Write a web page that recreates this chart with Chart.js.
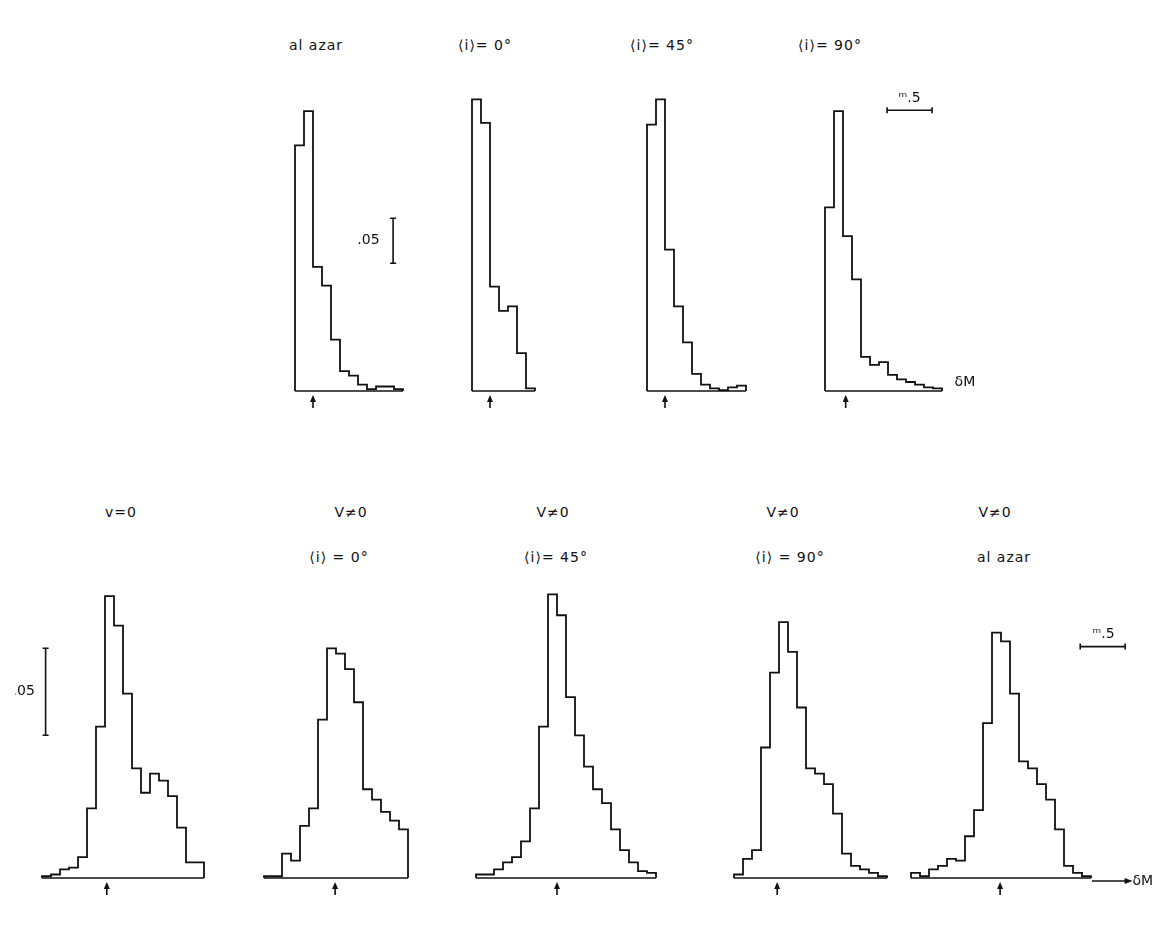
<!DOCTYPE html>
<html>
<head>
<meta charset="utf-8">
<title>Distribución de δM</title>
<script src="https://cdn.jsdelivr.net/npm/chart.js@4.4.1/dist/chart.umd.min.js"></script>
<style>
  html, body { margin: 0; padding: 0; background: #fff; }
  body { width: 1163px; height: 939px; position: relative; overflow: hidden; font-family: "DejaVu Sans", sans-serif; }
  canvas.panel { position: absolute; }
  .lbl { position: absolute; font-size: 14px; letter-spacing: 1px; color: #111; white-space: nowrap; transform: translate(-50%, -50%); }
</style>
</head>
<body>
<script>
// anchura de cada intervalo en δM (magnitudes)
const binWidth = 0.1;

// fila superior: histogramas (fracción por intervalo), empiezan en δM = -0.2
const topTitles = ["al azar", "⟨i⟩= 0°", "⟨i⟩= 45°", "⟨i⟩= 90°"];
const topStart = [-0.2, -0.2, -0.2, -0.2];
const topAlAzar = [0.273, 0.311, 0.138, 0.117, 0.057, 0.022, 0.017, 0.007, 0.002, 0.005, 0.005, 0.002];
const topI0 = [0.324, 0.298, 0.116, 0.089, 0.094, 0.042, 0.003];
const topI45 = [0.296, 0.324, 0.157, 0.094, 0.054, 0.019, 0.007, 0.003, 0.001, 0.004, 0.006];
const topI90 = [0.204, 0.311, 0.172, 0.124, 0.038, 0.029, 0.032, 0.018, 0.013, 0.010, 0.007, 0.004, 0.003];
const topArrows = [0, 0, 0, 0.03];

// fila inferior
const bottomTitles = [["v=0", ""], ["V≠0", "⟨i⟩ = 0°"], ["V≠0", "⟨i⟩= 45°"], ["V≠0", "⟨i⟩ = 90°"], ["V≠0", "al azar"]];
const bottomStart = [-0.7, -0.7, -0.8, -0.5, -0.9];
const botV0 = [0.001, 0.002, 0.005, 0.006, 0.012, 0.040, 0.087, 0.162, 0.145, 0.106, 0.063, 0.049, 0.060, 0.056, 0.047, 0.029, 0.009, 0.009];
const botI0 = [0.001, 0.001, 0.014, 0.010, 0.030, 0.040, 0.091, 0.132, 0.129, 0.120, 0.101, 0.051, 0.045, 0.038, 0.033, 0.028];
const botI45 = [0.002, 0.002, 0.005, 0.009, 0.012, 0.021, 0.040, 0.087, 0.163, 0.151, 0.104, 0.082, 0.064, 0.051, 0.043, 0.028, 0.016, 0.009, 0.004, 0.003];
const botI90 = [0.002, 0.011, 0.016, 0.075, 0.118, 0.147, 0.130, 0.098, 0.063, 0.060, 0.054, 0.037, 0.014, 0.007, 0.005, 0.003, 0.001];
const botAlAzar = [0.003, 0.001, 0.005, 0.007, 0.011, 0.010, 0.024, 0.039, 0.089, 0.141, 0.136, 0.106, 0.067, 0.063, 0.054, 0.045, 0.028, 0.007, 0.003, 0.001];
const bottomArrows = [0.02, 0.09, 0.1, -0.02, 0.09];

// barras de escala
const scaleY = 0.05;   // fracción
const scaleX = 0.5;    // magnitudes

// ---- disposición (pixeles) ----
const INK = "#111";
const PX_PER_MAG = 90;
const PAD_BOTTOM = 22;
const TOP = { baseline: 391, ppu: 900, chartH: 306, titleY: 45 };
const BOT = { baseline: 878, ppu: 1740, chartH: 296, titleY: [512, 557] };
const topZero = [313, 490, 665, 843];
const topRange = [[-0.3, 1.1], [-0.3, 0.7], [-0.3, 1.0], [-0.3, 1.6]];
const topTitleX = [316, 485, 662, 830];
const botZero = [105, 327, 548, 779, 992];
const botRange = [[-1.0, 1.3], [-0.8, 1.0], [-0.9, 1.3], [-0.6, 1.3], [-1.0, 1.9]];
const botTitleX = [[121, 0], [351, 339], [553, 556], [783, 790], [995, 1004]];

function stepPoints(start, vals) {
  const pts = [{ x: start, y: 0 }];
  vals.forEach((v, i) => pts.push({ x: +(start + i * binWidth).toFixed(2), y: v }));
  pts.push({ x: +(start + vals.length * binWidth).toFixed(2), y: 0 });
  return pts;
}

// dibuja flecha de la media, barras de escala y textos sobre las escalas del gráfico
const extrasPlugin = {
  id: "extras",
  afterDatasetsDraw(chart, args, opts) {
    const { ctx } = chart;
    const x = chart.scales.x, y = chart.scales.y;
    ctx.save();
    ctx.strokeStyle = INK;
    ctx.fillStyle = INK;
    ctx.lineWidth = 1.6;
    if (opts.arrow != null) {
      const px = x.getPixelForValue(opts.arrow), py = y.getPixelForValue(0);
      ctx.beginPath(); ctx.moveTo(px, py + 17); ctx.lineTo(px, py + 6); ctx.stroke();
      ctx.beginPath(); ctx.moveTo(px - 3, py + 11); ctx.lineTo(px, py + 4); ctx.lineTo(px + 3, py + 11); ctx.closePath(); ctx.fill();
    }
    (opts.vbars || []).forEach(b => {
      const px = x.getPixelForValue(b.x), y0 = y.getPixelForValue(b.y), y1 = y.getPixelForValue(b.y + scaleY);
      ctx.beginPath();
      ctx.moveTo(px, y0); ctx.lineTo(px, y1);
      ctx.moveTo(px - 3, y0); ctx.lineTo(px + 3, y0);
      ctx.moveTo(px - 3, y1); ctx.lineTo(px + 3, y1);
      ctx.stroke();
    });
    (opts.hbars || []).forEach(b => {
      const x0 = x.getPixelForValue(b.x), x1 = x.getPixelForValue(b.x + scaleX), py = y.getPixelForValue(b.y);
      ctx.beginPath();
      ctx.moveTo(x0, py); ctx.lineTo(x1, py);
      ctx.moveTo(x0, py - 3); ctx.lineTo(x0, py + 3);
      ctx.moveTo(x1, py - 3); ctx.lineTo(x1, py + 3);
      ctx.stroke();
    });
    if (opts.axisArrow) {
      const a = opts.axisArrow, py = y.getPixelForValue(0) + 3;
      const x0 = x.getPixelForValue(a.x0), x1 = x.getPixelForValue(a.x1);
      ctx.beginPath(); ctx.moveTo(x0, py); ctx.lineTo(x1, py); ctx.stroke();
      ctx.beginPath(); ctx.moveTo(x1 + 2, py); ctx.lineTo(x1 - 6, py - 3); ctx.lineTo(x1 - 6, py + 3); ctx.closePath(); ctx.fill();
    }
    ctx.font = "14px 'DejaVu Sans', sans-serif";
    ctx.textBaseline = "middle";
    (opts.texts || []).forEach(t => {
      ctx.textAlign = t.align || "center";
      ctx.fillText(t.text, x.getPixelForValue(t.x), y.getPixelForValue(t.y) + (t.dy || 0));
    });
    ctx.restore();
  }
};

function makePanel(row, zero, range, start, vals, extras) {
  const left = Math.round(zero + range[0] * PX_PER_MAG);
  const width = Math.round((range[1] - range[0]) * PX_PER_MAG);
  const cv = document.createElement("canvas");
  cv.className = "panel";
  cv.width = width;
  cv.height = row.chartH + PAD_BOTTOM;
  cv.style.left = left + "px";
  cv.style.top = (row.baseline - row.chartH) + "px";
  document.body.appendChild(cv);
  const end = +(start + vals.length * binWidth).toFixed(2);
  return new Chart(cv.getContext("2d"), {
    type: "line",
    data: {
      datasets: [
        { data: stepPoints(start, vals), stepped: true, borderColor: INK, borderWidth: 1.8, pointRadius: 0, fill: false, clip: false },
        { data: [{ x: start, y: 0 }, { x: end, y: 0 }], borderColor: INK, borderWidth: 1.4, pointRadius: 0, fill: false, clip: false }
      ]
    },
    options: {
      responsive: false,
      animation: false,
      events: [],
      layout: { padding: { left: 0, right: 0, top: 0, bottom: PAD_BOTTOM } },
      scales: {
        x: { type: "linear", display: false, min: range[0], max: range[1] },
        y: { type: "linear", display: false, min: 0, max: row.chartH / row.ppu }
      },
      plugins: { legend: { display: false }, tooltip: { enabled: false }, extras: extras }
    },
    plugins: [extrasPlugin]
  });
}

function addLabel(text, x, y) {
  const d = document.createElement("div");
  d.className = "lbl";
  d.textContent = text;
  d.style.left = x + "px";
  d.style.top = y + "px";
  document.body.appendChild(d);
}

// fila superior
const topSeries = [topAlAzar, topI0, topI45, topI90];
const topExtras = [
  { vbars: [{ x: 0.89, y: 0.142 }], texts: [{ x: 0.74, y: 0.167, text: ".05", align: "right" }] },
  {},
  {},
  { hbars: [{ x: 0.49, y: 0.312 }], texts: [{ x: 0.74, y: 0.312, dy: -12, text: "\u1D50.5" }, { x: 1.24, y: 0, dy: -9, text: "δM", align: "left" }] }
];
topSeries.forEach((vals, i) => {
  makePanel(TOP, topZero[i], topRange[i], topStart[i], vals, Object.assign({ arrow: topArrows[i] }, topExtras[i]));
  addLabel(topTitles[i], topTitleX[i], TOP.titleY);
});

// fila inferior
const bottomSeries = [botV0, botI0, botI45, botI90, botAlAzar];
const bottomExtras = [
  { vbars: [{ x: -0.66, y: 0.082 }], texts: [{ x: -0.78, y: 0.107, text: ".05", align: "right" }] },
  {},
  {},
  {},
  {
    hbars: [{ x: 0.98, y: 0.133 }],
    axisArrow: { x0: 1.11, x1: 1.54 },
    texts: [{ x: 1.24, y: 0.133, dy: -12, text: "\u1D50.5" }, { x: 1.56, y: 0, dy: 3, text: "δM", align: "left" }]
  }
];
bottomSeries.forEach((vals, i) => {
  makePanel(BOT, botZero[i], botRange[i], bottomStart[i], vals, Object.assign({ arrow: bottomArrows[i] }, bottomExtras[i]));
  addLabel(bottomTitles[i][0], botTitleX[i][0], BOT.titleY[0]);
  if (bottomTitles[i][1]) addLabel(bottomTitles[i][1], botTitleX[i][1], BOT.titleY[1]);
});
</script>
</body>
</html>
